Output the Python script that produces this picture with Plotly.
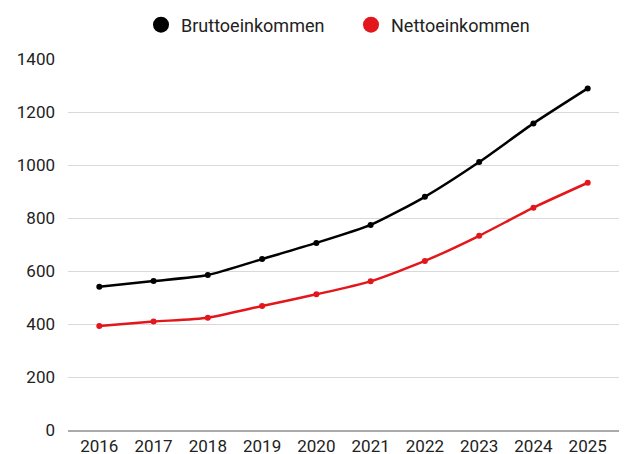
import plotly.graph_objects as go

years = ["2016", "2017", "2018", "2019", "2020", "2021", "2022", "2023", "2024", "2025"]
brutto = [541, 562, 585, 645, 706, 774, 880, 1011, 1157, 1289]
netto = [392, 409, 424, 468, 512, 561, 638, 733, 839, 933]
y_ticks = [0, 200, 400, 600, 800, 1000, 1200, 1400]
series = [("Bruttoeinkommen", brutto, "#000000"), ("Nettoeinkommen", netto, "#e3161b")]

fig = go.Figure()
for name, vals, col in series:
    fig.add_trace(go.Scatter(x=years, y=vals, name=name, mode="lines+markers", showlegend=False,
                             line=dict(color=col, width=2.5, shape="spline", smoothing=0.6),
                             marker=dict(color=col, size=6)))
for name, vals, col in series:
    fig.add_trace(go.Scatter(x=[None], y=[None], name=name, mode="markers",
                             marker=dict(color=col, size=18)))

fig.update_layout(
    width=619, height=446,
    margin=dict(l=60, r=8, t=51, b=24),
    paper_bgcolor="white", plot_bgcolor="white",
    font=dict(family="Roboto, sans-serif", size=17, color="#222222"),
    legend=dict(orientation="h", x=0.1325, xanchor="left", y=0.962, yanchor="middle",
                yref="container", itemsizing="trace", font=dict(size=18),
                entrywidth=165, entrywidthmode="pixels"),
    showlegend=True,
)
fig.update_xaxes(type="category", showgrid=False, showline=True, linecolor="#aaaaaa", linewidth=2,
                 ticks="", tickfont=dict(size=17), automargin=False)
fig.update_yaxes(range=[0, 1400], tickvals=y_ticks, showgrid=True, gridcolor="#d9d9d9", gridwidth=1,
                 zeroline=False, showline=False, ticks="", tickfont=dict(size=17),
                 ticklabelstandoff=12, automargin=False)

fig.write_html("out.html")
